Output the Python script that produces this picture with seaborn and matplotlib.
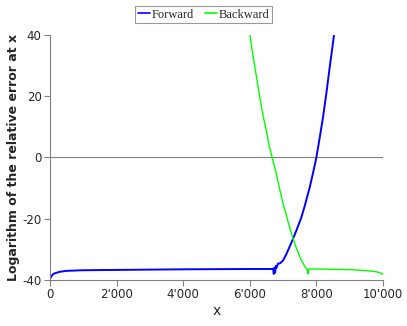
import numpy as np
import pandas as pd
import seaborn as sns
import matplotlib.pyplot as plt
from matplotlib.ticker import FuncFormatter

# values
fwd_x = [0, 50, 100, 200, 300, 500, 1000, 2000, 4000, 6000, 6650, 6700, 6720, 6740, 6760,
         6780, 6800, 6850, 6900, 7000, 7100, 7200, 7300, 7400, 7550, 7650, 7800,
         7900, 8000, 8100, 8200, 8300, 8400, 8530]
fwd_y = [-39.5, -38.6, -38.0, -37.6, -37.3, -37.0, -36.8, -36.7, -36.5, -36.4, -36.4, -36.3,
         -38.0, -36.0, -37.6, -35.4, -36.0, -34.6, -34.6, -33.6, -31.5, -29.0, -26.5,
         -23.8, -19.5, -15.8, -9.7, -5.0, 0.0, 6.5, 13.2, 21.0, 29.5, 40.0]

bwd_x = [6000, 6100, 6200, 6300, 6400, 6500, 6600, 6670, 6800, 6900, 7000, 7100, 7200,
         7300, 7400, 7550, 7650, 7730, 7745, 7760, 8000, 8500, 9000, 9500, 9800, 9950, 10000]
bwd_y = [40.0, 33.0, 26.3, 19.7, 13.5, 8.5, 3.0, 0.0, -5.5, -10.5, -15.1, -19.0, -23.0,
         -26.5, -29.6, -33.6, -35.5, -36.9, -38.0, -36.4, -36.4, -36.5, -36.6, -36.9,
         -37.3, -37.8, -38.2]

df = pd.concat([
    pd.DataFrame({"x": fwd_x, "y": fwd_y, "dir": "Forward"}),
    pd.DataFrame({"x": bwd_x, "y": bwd_y, "dir": "Backward"}),
])

sns.set_style("white")
fig = plt.figure(figsize=(4.07, 3.26), dpi=100)
ax = fig.add_axes([0.123, 0.141, 0.818, 0.752])

ax.axhline(0, color="#808080", lw=0.8, zorder=1)
sns.lineplot(data=df, x="x", y="y", hue="dir", size="dir", sizes={"Forward": 1.4, "Backward": 1.0},
             palette={"Forward": "#0000ff", "Backward": "#00ff00"},
             sort=False, estimator=None, ax=ax, legend=False)

ax.set_xlim(0, 10000)
ax.set_ylim(-40, 40)
ax.set_xticks([0, 2000, 4000, 6000, 8000, 10000])
ax.set_yticks([-40, -20, 0, 20, 40])
ax.xaxis.set_major_formatter(FuncFormatter(lambda v, p: f"{int(v):,}".replace(",", "'")))
ax.yaxis.set_major_formatter(FuncFormatter(lambda v, p: f"{int(v)}"))

for s in ["top", "right"]:
    ax.spines[s].set_visible(False)
for s in ["left", "bottom"]:
    ax.spines[s].set_color("#808080")
    ax.spines[s].set_linewidth(0.8)
ax.tick_params(axis="both", direction="out", length=4, width=0.8, color="#808080",
               labelsize=8.5, pad=2, left=True, bottom=True)

ax.set_xlabel("x", fontsize=10, labelpad=2)
ax.set_ylabel("Logarithm of the relative error at x", fontsize=9, fontweight="bold", labelpad=2)

handles = [plt.Line2D([], [], color="#0000ff", lw=1.2), plt.Line2D([], [], color="#00ff00", lw=1.2)]
leg = fig.legend(handles, ["Forward", "Backward"], loc="upper center", bbox_to_anchor=(0.5, 1.0),
                 ncol=2, frameon=True, fancybox=False, handlelength=1.0, handletextpad=0.1,
                 columnspacing=0.9, borderpad=0.2, prop={"family": "Liberation Serif", "size": 9})
leg.get_frame().set_edgecolor("#808080")
leg.get_frame().set_linewidth(0.8)

fig.savefig("out.png", dpi=100)
